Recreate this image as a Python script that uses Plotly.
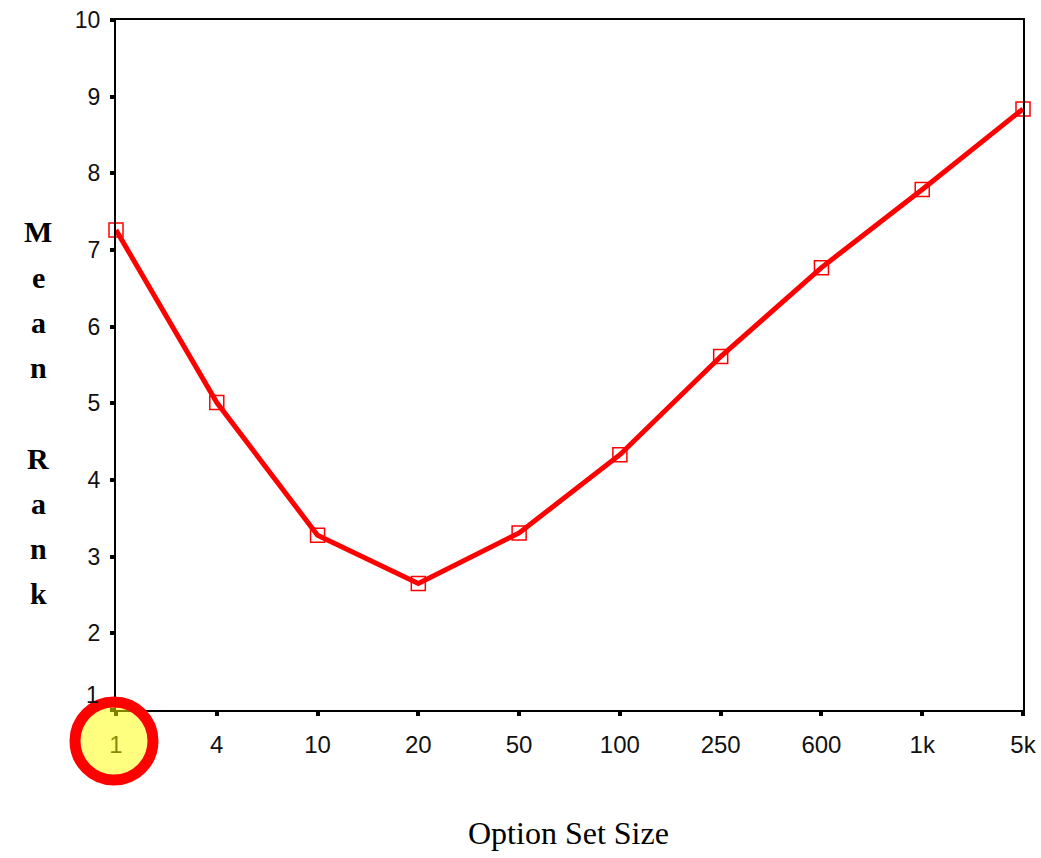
import plotly.graph_objects as go

categories = ["1", "4", "10", "20", "50", "100", "250", "600", "1k", "5k"]
mean_rank = [7.26, 5.01, 3.28, 2.65, 3.31, 4.33, 5.61, 6.77, 7.79, 8.84]
y_ticks = [1, 2, 3, 4, 5, 6, 7, 8, 9, 10]
y_title_letters = ["M", "e", "a", "n", "", "R", "a", "n", "k"]

W, H = 1041, 858
L, R, T, B = 116, 18, 20, 148
ph = H - T - B
pw = W - L - R

fig = go.Figure()
fig.add_trace(go.Scatter(
    x=categories, y=mean_rank, mode="lines+markers",
    line=dict(color="#ff0000", width=5),
    marker=dict(symbol="square-open", size=14, color="#ff0000", line=dict(width=1.5, color="#ff0000")),
    showlegend=False, cliponaxis=False,
))

tick_font = dict(size=23, family="Liberation Sans, Arial", color="#111")

fig.update_layout(
    width=W, height=H,
    margin=dict(l=L, r=R, t=T, b=B, autoexpand=False),
    paper_bgcolor="white", plot_bgcolor="white",
    font=dict(family="Liberation Sans, Arial", color="black"),
    xaxis=dict(
        type="category", range=[0, len(categories) - 1], automargin=False,
        showgrid=False, zeroline=False,
        showline=True, linecolor="black", linewidth=2, mirror=True,
        ticks="outside", ticklen=4, tickwidth=4, tickcolor="black",
        tickfont=dict(size=24, family="Liberation Sans, Arial", color="#111"),
        ticklabelstandoff=8,
    ),
    yaxis=dict(
        range=[1, 10], tickvals=y_ticks,
        ticktext=["" if v == y_ticks[0] else str(v) for v in y_ticks],
        automargin=False,
        showgrid=False, zeroline=False,
        showline=True, linecolor="black", linewidth=2, mirror=True,
        ticks="outside", ticklen=4, tickwidth=4, tickcolor="black",
        tickfont=tick_font,
        ticklabelstandoff=5,
    ),
)

# lowest y tick label sits a little above the corner
fig.add_annotation(
    text=str(y_ticks[0]), xref="paper", yref="paper",
    x=(101 - L) / pw, y=(H - B - 695) / ph,
    showarrow=False, xanchor="right", yanchor="middle",
    font=tick_font,
)

# vertical stacked y title
start_py, step_py = 232, 45.2
for i, ch in enumerate(y_title_letters):
    if not ch:
        continue
    py = start_py + i * step_py
    fig.add_annotation(
        text="<b>" + ch + "</b>", xref="paper", yref="paper",
        x=(38 - L) / pw, y=(H - B - py) / ph,
        showarrow=False, xanchor="center", yanchor="middle",
        font=dict(size=30, family="Liberation Serif, Times New Roman", color="black"),
    )

# x title
fig.add_annotation(
    text="Option Set Size", xref="paper", yref="paper",
    x=(568 - L) / pw, y=(H - B - 833) / ph,
    showarrow=False, xanchor="center", yanchor="middle",
    font=dict(size=32, family="Liberation Serif, Times New Roman", color="black"),
)

# highlight circle around the first tick label
cx, cy, rad = 114, 741, 39
fig.add_shape(
    type="circle", xref="paper", yref="paper", layer="above",
    x0=(cx - rad - L) / pw, x1=(cx + rad - L) / pw,
    y0=(H - B - (cy + rad)) / ph, y1=(H - B - (cy - rad)) / ph,
    fillcolor="rgba(255,255,0,0.5)",
    line=dict(color="#ff0000", width=11),
)

fig.write_html(
    "out.html",
    config={"displayModeBar": False},
    post_script="document.body.style.margin='0px';document.body.style.overflow='hidden';",
)
